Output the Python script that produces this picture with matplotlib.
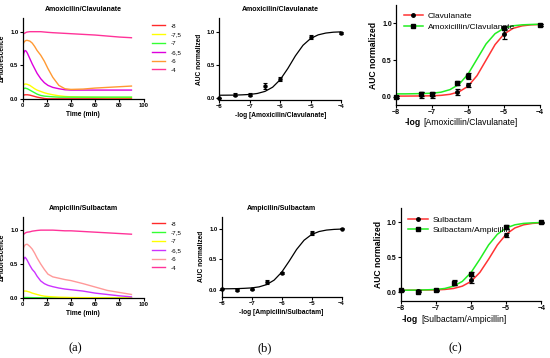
import matplotlib
matplotlib.use("Agg")
import matplotlib.pyplot as plt
from matplotlib.lines import Line2D

plt.rcParams['font.family'] = ['Liberation Sans', 'DejaVu Sans']

# ---- panel (a): fluorescence kinetics ----
time_min = [0, 1, 2, 3, 4, 6, 8, 10, 12, 15, 18, 21, 25, 30, 35, 40, 50, 60, 70, 80, 90]
conc_labels = ['-8', '-7,5', '-7', '-6,5', '-6', '-4']

amox_kin = {
    '-8':   [0.05, 0.055, 0.06, 0.06, 0.06, 0.055, 0.045, 0.035, 0.025, 0.015, 0.005, 0.0, 0.0, 0.0, 0.0, 0.0, 0.0, 0.0, 0.0, 0.0, 0.0],
    '-7,5': [0.20, 0.21, 0.22, 0.22, 0.215, 0.20, 0.175, 0.15, 0.13, 0.11, 0.09, 0.075, 0.06, 0.045, 0.035, 0.03, 0.025, 0.022, 0.02, 0.02, 0.02],
    '-7':   [0.14, 0.15, 0.16, 0.155, 0.15, 0.13, 0.11, 0.09, 0.07, 0.05, 0.04, 0.035, 0.03, 0.025, 0.025, 0.025, 0.025, 0.025, 0.025, 0.025, 0.025],
    '-6,5': [0.55, 0.68, 0.72, 0.71, 0.68, 0.60, 0.52, 0.45, 0.38, 0.30, 0.24, 0.20, 0.17, 0.15, 0.135, 0.13, 0.13, 0.13, 0.13, 0.13, 0.13],
    '-6':   [0.78, 0.84, 0.86, 0.87, 0.87, 0.86, 0.83, 0.78, 0.72, 0.65, 0.56, 0.45, 0.32, 0.20, 0.15, 0.14, 0.145, 0.16, 0.17, 0.18, 0.19],
    '-4':   [0.95, 0.97, 0.98, 0.99, 0.995, 1.0, 1.0, 1.0, 1.0, 1.0, 0.995, 0.99, 0.985, 0.98, 0.975, 0.97, 0.96, 0.95, 0.935, 0.92, 0.91],
}
amox_colors = ['#ff2a2a', '#ffff00', '#33ff33', '#dd00dd', '#ff9933', '#ff3399']

amp_kin = {
    '-8':   [0.0] * 21,
    '-7,5': [0.005, 0.005, 0.005, 0.005, 0.005, 0.004, 0.003, 0.002, 0.002, 0.001, 0.0, 0.0, 0.0, 0.0, 0.0, 0.0, 0.0, 0.0, 0.0, 0.0, 0.0],
    '-7':   [0.10, 0.10, 0.10, 0.10, 0.095, 0.085, 0.07, 0.06, 0.05, 0.035, 0.025, 0.02, 0.015, 0.01, 0.008, 0.005, 0.003, 0.002, 0.001, 0.0, 0.0],
    '-6,5': [0.45, 0.57, 0.60, 0.58, 0.55, 0.48, 0.42, 0.38, 0.32, 0.25, 0.21, 0.185, 0.165, 0.145, 0.13, 0.12, 0.10, 0.07, 0.05, 0.03, 0.015],
    '-6':   [0.68, 0.75, 0.78, 0.79, 0.79, 0.76, 0.72, 0.66, 0.59, 0.50, 0.42, 0.35, 0.31, 0.29, 0.27, 0.255, 0.21, 0.16, 0.11, 0.08, 0.05],
    '-4':   [0.92, 0.94, 0.955, 0.965, 0.97, 0.975, 0.985, 0.99, 0.995, 1.0, 1.0, 1.0, 1.0, 0.995, 0.99, 0.99, 0.98, 0.97, 0.96, 0.95, 0.94],
}
amp_colors = ['#ff2a2a', '#33ff33', '#ffff00', '#cc33ff', '#ff9999', '#ff3399']

# ---- panel (b): single dose-response ----
dose_b = [-8, -7.5, -7, -6.5, -6, -5, -4]
amox_auc = [0.0, 0.05, 0.05, 0.18, 0.28, 0.92, 0.98]
amox_err = [0.005, 0.02, 0.02, 0.04, 0.03, 0.03, 0.01]
amp_auc = [0.02, 0.0, 0.01, 0.13, 0.28, 0.93, 1.0]
amp_err = [0.01, 0.01, 0.01, 0.035, 0.01, 0.03, 0.01]

curve_x = [-8, -7.75, -7.5, -7.25, -7, -6.75, -6.5, -6.25, -6, -5.75, -5.5, -5.25, -5, -4.75, -4.5, -4.25, -4]
amox_fit = [0.04, 0.041, 0.042, 0.046, 0.052, 0.067, 0.098, 0.161, 0.275, 0.443, 0.634, 0.793, 0.895, 0.95, 0.977, 0.99, 0.995]
amp_fit = [0.02, 0.021, 0.023, 0.028, 0.035, 0.052, 0.089, 0.162, 0.29, 0.47, 0.663, 0.814, 0.907, 0.956, 0.98, 0.991, 0.996]

# ---- panel (c): two dose-responses ----
dose_c_top = [-8, -7.3, -7, -6.3, -6, -5, -4]
clav_auc = [0.0, 0.02, 0.02, 0.06, 0.16, 0.86, 0.98]
clav_err = [0.01, 0.04, 0.03, 0.04, 0.03, 0.07, 0.01]
amoxclav_auc = [0.0, 0.04, 0.04, 0.19, 0.28, 0.94, 0.98]
amoxclav_err = [0.01, 0.03, 0.03, 0.03, 0.04, 0.03, 0.01]
clav_fit = [0.01, 0.01, 0.011, 0.012, 0.014, 0.02, 0.034, 0.068, 0.144, 0.289, 0.5, 0.711, 0.856, 0.932, 0.966, 0.98, 0.985]
amoxclav_fit = [0.04, 0.04, 0.042, 0.045, 0.049, 0.063, 0.098, 0.17, 0.31, 0.515, 0.72, 0.86, 0.934, 0.967, 0.98, 0.985, 0.988]

dose_c_bot = [-8, -7.5, -7, -6.5, -6, -5, -4]
sulb_auc = [0.03, 0.02, 0.03, 0.13, 0.18, 0.82, 1.0]
sulb_err = [0.01, 0.01, 0.01, 0.03, 0.05, 0.03, 0.01]
sulbamp_auc = [0.03, 0.01, 0.03, 0.14, 0.26, 0.93, 1.0]
sulbamp_err = [0.01, 0.01, 0.01, 0.03, 0.03, 0.03, 0.01]
sulb_fit = [0.03, 0.03, 0.031, 0.033, 0.035, 0.041, 0.055, 0.088, 0.156, 0.284, 0.473, 0.677, 0.83, 0.92, 0.965, 0.985, 0.993]
sulbamp_fit = [0.03, 0.031, 0.032, 0.036, 0.041, 0.055, 0.088, 0.156, 0.284, 0.473, 0.677, 0.83, 0.92, 0.965, 0.985, 0.993, 0.997]

RED = '#ff3333'
GREEN = '#22ee22'
TICK_FS = 4.2
LAB_FS = 4.8


def style(ax, fs=TICK_FS):
    for s in ('top', 'right'):
        ax.spines[s].set_visible(False)
    for s in ('left', 'bottom'):
        ax.spines[s].set_linewidth(0.9)
    ax.tick_params(direction='out', length=2, width=0.8, labelsize=fs, pad=1)
    ax.set_yticks([0.0, 0.5, 1.0])
    ax.set_yticklabels(['0.0', '0.5', '1.0'], fontweight='bold')
    for t in ax.get_xticklabels():
        t.set_fontweight('bold')


def kinetics(ax, data, colors, title, leg_y):
    for lab, col in zip(conc_labels, colors):
        ax.plot(time_min, data[lab], color=col, lw=1.0, label=lab)
    ax.set_xlim(0, 100)
    ax.set_ylim(0, 1.2)
    ax.set_xticks([0, 20, 40, 60, 80, 100])
    style(ax)
    ax.set_title(title, fontsize=5, fontweight='bold', pad=5)
    ax.set_xlabel('Time (min)', fontsize=LAB_FS, fontweight='bold', labelpad=2)
    ax.set_ylabel('ΔFluorescence', fontsize=LAB_FS, fontweight='bold', labelpad=3)
    fig.legend(loc='upper left', bbox_to_anchor=(149 / 550, 1 - leg_y / 358),
               handles=ax.get_lines(), fontsize=4.5, frameon=False,
               handlelength=2.0, handletextpad=0.9, labelspacing=0.55, borderpad=0)


def single_dr(ax, y, err, fit, title, xlabel):
    ax.plot(curve_x, fit, color='black', lw=0.9)
    ax.errorbar(dose_b, y, yerr=err, fmt='o', color='black', ms=2.2,
                capsize=1.5, elinewidth=0.8, capthick=0.8, clip_on=False, zorder=5)
    ax.set_xlim(-8, -4)
    ax.set_xticks([-8, -7, -6, -5, -4])
    style(ax)
    ax.set_title(title, fontsize=5, fontweight='bold', pad=5)
    ax.set_xlabel(xlabel, fontsize=LAB_FS, fontweight='bold', labelpad=2)
    ax.set_ylabel('AUC normalized', fontsize=LAB_FS, fontweight='bold', labelpad=3)


def double_dr(ax, x, y1, e1, f1, y2, e2, f2, names):
    ax.plot(curve_x, f1, color=RED, lw=1.1)
    ax.plot(curve_x, f2, color=GREEN, lw=1.1)
    ax.errorbar(x, y1, yerr=e1, fmt='o', color='black', ms=2.5,
                capsize=1.8, elinewidth=0.9, capthick=0.9, clip_on=False, zorder=5)
    ax.errorbar(x, y2, yerr=e2, fmt='s', color='black', ms=2.5,
                capsize=1.8, elinewidth=0.9, capthick=0.9, clip_on=False, zorder=5)
    ax.set_xlim(-8, -4)
    ax.set_xticks([-8, -7, -6, -5, -4])
    style(ax, fs=5)
    ax.set_ylabel('AUC normalized', fontsize=6.2, fontweight='bold', labelpad=3)
    handles = [Line2D([], [], color=RED, lw=1.1, marker='o', mfc='black', mec='black', ms=2.5),
               Line2D([], [], color=GREEN, lw=1.1, marker='s', mfc='black', mec='black', ms=2.5)]
    ax.legend(handles, names, loc='upper left', fontsize=6, frameon=False,
              handlelength=2.3, handletextpad=0.6, labelspacing=0.3,
              borderaxespad=0.5, bbox_to_anchor=(0.0, 1.0))


fig = plt.figure(figsize=(5.5, 3.58), dpi=100)

# top row
ax1 = fig.add_axes([0.041, 0.724, 0.22, 0.225])
kinetics(ax1, amox_kin, amox_colors, 'Amoxicilin/Clavulanate', 20)
ax2 = fig.add_axes([0.399, 0.721, 0.221, 0.228])
single_dr(ax2, amox_auc, amox_err, amox_fit, 'Amoxicilin/Clavulanate',
          '-log [Amoxicilin/Clavulanate]')
ax2.set_ylim(-0.03, 1.2)
ax3 = fig.add_axes([0.72, 0.707, 0.262, 0.279])
double_dr(ax3, dose_c_top, clav_auc, clav_err, clav_fit,
          amoxclav_auc, amoxclav_err, amoxclav_fit,
          ['Clavulanate', 'Amoxicillin/Clavulanate'])
ax3.set_ylim(-0.11, 1.25)
fig.text(421 / 550, 1 - 123 / 358, '-log', fontsize=6.2, fontweight='bold', ha='right', va='center')
fig.text(423 / 550, 1 - 123 / 358, '[Amoxicillin/Clavulanate]', fontsize=6.2, ha='left', va='center')

# bottom row
ax4 = fig.add_axes([0.041, 0.168, 0.22, 0.227])
kinetics(ax4, amp_kin, amp_colors, 'Ampicilin/Sulbactam', 218)
ax5 = fig.add_axes([0.403, 0.171, 0.218, 0.224])
single_dr(ax5, amp_auc, amp_err, amp_fit, 'Ampicilin/Sulbactam',
          '-log [Ampicilin/Sulbactam]')
ax5.set_ylim(-0.11, 1.2)
ax6 = fig.add_axes([0.729, 0.16, 0.255, 0.258])
double_dr(ax6, dose_c_bot, sulb_auc, sulb_err, sulb_fit,
          sulbamp_auc, sulbamp_err, sulbamp_fit,
          ['Sulbactam', 'Sulbactam/Ampicillin'])
ax6.set_ylim(-0.12, 1.2)
fig.text(418 / 550, 1 - 319 / 358, '-log', fontsize=6.2, fontweight='bold', ha='right', va='center')
fig.text(421 / 550, 1 - 319 / 358, '[Sulbactam/Ampicillin]', fontsize=6.2, ha='left', va='center')

# panel letters
for x, s in [(75, '(a)'), (265, '(b)'), (455, '(c)')]:
    fig.text(x / 550, 1 - 348 / 358, s, fontsize=9, family='Liberation Serif',
             ha='center', va='center')

fig.savefig('out.png', dpi=100)
